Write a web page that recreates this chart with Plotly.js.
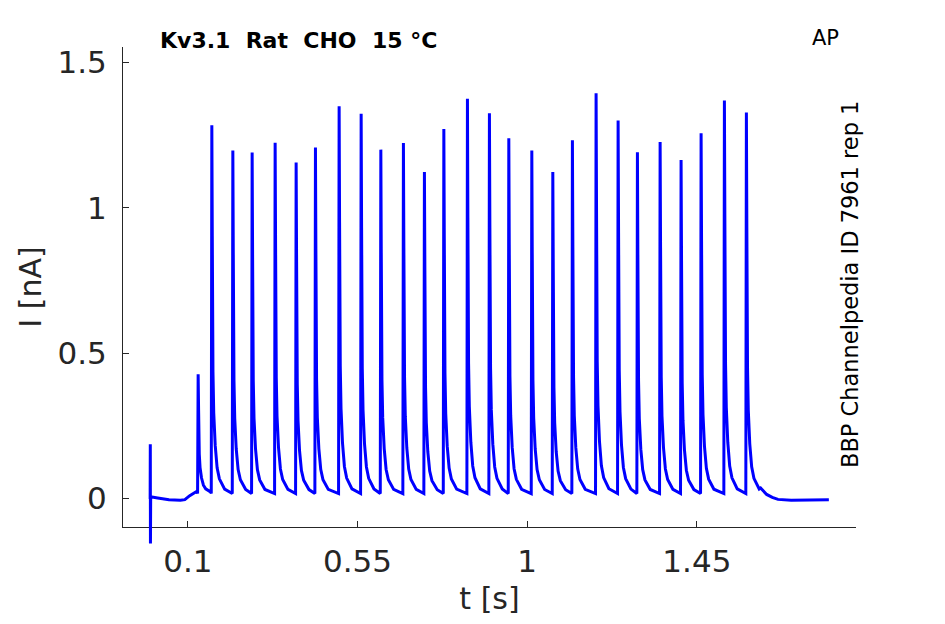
<!DOCTYPE html>
<html>
<head>
<meta charset="utf-8">
<script src="https://cdn.plot.ly/plotly-3.0.1.min.js"></script>
<style>
  html, body { margin: 0; padding: 0; background: #fff; }
  #chart { width: 945px; height: 624px; }
</style>
</head>
<body>
<div id="chart"></div>
<script>
// spike times (s) and peak currents (nA)
const spikeTimes = [0.1273, 0.1636, 0.2193, 0.2705, 0.3315, 0.3872, 0.4384, 0.5012, 0.5596,
  0.6118, 0.6717, 0.7274, 0.7789, 0.8415, 0.8998, 0.9512, 1.0122, 1.0679, 1.1199,
  1.1827, 1.2411, 1.2923, 1.3525, 1.4081, 1.4612, 1.5230, 1.5813];
const spikePeaks = [0.427, 1.284, 1.197, 1.190, 1.224, 1.156, 1.207, 1.349, 1.323,
  1.200, 1.223, 1.123, 1.271, 1.375, 1.325, 1.239, 1.197, 1.123, 1.232,
  1.394, 1.300, 1.191, 1.226, 1.164, 1.256, 1.369, 1.328];

// shape of one spike: offset from peak (s), fraction of height
const spikeShapeDt = [-0.0015, 0, 0.0012, 0.003, 0.005, 0.009, 0.014, 0.02, 0.034];
const spikeShapeFrac = [0, 1, 0.7, 0.33, 0.22, 0.13, 0.07, 0.04, 0.012];
const spikeBaseline = 0.017;

// before the stimulus (capacitive artefact at t = 0) and after the last spike
const preT = [0, 0.0004, 0.0008, 0.0014, 0.02, 0.05, 0.08, 0.092, 0.105, 0.118, 0.124];
const preI = [-0.002, 0.187, -0.155, 0.006, 0.002, -0.004, -0.006, -0.004, 0.01, 0.022, 0.025];
const postT = [1.619, 1.624, 1.635, 1.65, 1.665, 1.7, 1.75, 1.8];
const postI = [0.036, 0.028, 0.014, 0.004, -0.003, -0.006, -0.006, -0.004];

const xTicks = [0.1, 0.55, 1, 1.45];
const xTickText = ['0.1', '0.55', '1', '1.45'];
const yTicks = [0, 0.5, 1, 1.5];
const yTickText = ['0', '0.5', '1', '1.5'];

// assemble the trace
const t = [...preT];
const I = [...preI];
spikeTimes.forEach((ts, k) => {
  spikeShapeDt.forEach((dt, j) => {
    t.push(ts + dt);
    I.push(spikeBaseline + spikeShapeFrac[j] * (spikePeaks[k] - spikeBaseline));
  });
});
t.push(...postT);
I.push(...postI);

const W = 945, H = 624;
const M = { l: 123, r: 89, t: 47, b: 64 };
const plotW = W - M.l - M.r;
const plotH = H - M.t - M.b;
const px = x => (x - M.l) / plotW;
const py = y => (H - M.b - y) / plotH;

const xRange = [-0.072, 1.872];
const yRange = [-0.098, 1.553];
const axisBottom = py(527);   // x axis line sits here, the trace may run below it
const yRangeTrace = [yRange[1] - (yRange[1] - yRange[0]) / (1 - axisBottom), yRange[1]];

const axColor = '#262626';
const font = 'DejaVu Sans';

Plotly.newPlot('chart', [
  // empty trace so the visible axes get drawn
  { x: [], y: [], xaxis: 'x', yaxis: 'y', type: 'scatter', mode: 'lines', hoverinfo: 'skip' },
  {
    x: t,
    y: I,
    xaxis: 'x2',
    yaxis: 'y2',
    type: 'scatter',
    mode: 'lines',
    line: { color: '#0000ff', width: 3 },
    hoverinfo: 'skip'
  }
], {
  width: W,
  height: H,
  margin: M,
  paper_bgcolor: '#ffffff',
  plot_bgcolor: 'rgba(0,0,0,0)',
  showlegend: false,
  font: { family: font, color: axColor },
  xaxis: {
    domain: [0, 1],
    anchor: 'y',
    range: xRange,
    tickvals: xTicks,
    ticktext: xTickText,
    ticks: 'inside',
    ticklen: 6,
    tickcolor: axColor,
    showline: true,
    linecolor: axColor,
    linewidth: 1,
    showgrid: false,
    zeroline: false,
    tickfont: { size: 31, color: axColor },
    ticklabelstandoff: 7,
    title: { text: 't [s]', font: { size: 30, color: axColor }, standoff: 9 }
  },
  yaxis: {
    domain: [axisBottom, 1],
    anchor: 'x',
    range: yRange,
    tickvals: yTicks,
    ticktext: yTickText,
    ticks: 'inside',
    ticklen: 6,
    tickcolor: axColor,
    showline: true,
    linecolor: axColor,
    linewidth: 1,
    showgrid: false,
    zeroline: false,
    tickfont: { size: 31, color: axColor },
    ticklabelstandoff: 9,
    title: { text: 'I [nA]', font: { size: 30, color: axColor }, standoff: 6 }
  },
  xaxis2: {
    domain: [0, 1],
    anchor: 'y2',
    range: xRange,
    visible: false
  },
  yaxis2: {
    domain: [0, 1],
    anchor: 'x2',
    range: yRangeTrace,
    visible: false
  },
  annotations: [
    {
      text: 'Kv3.1\u00a0\u00a0Rat\u00a0\u00a0CHO\u00a0\u00a015\u00a0°C',
      xref: 'paper', yref: 'paper',
      x: px(158), y: py(40),
      xanchor: 'left', yanchor: 'middle',
      showarrow: false,
      font: { family: font, size: 22, color: '#000000', weight: 'bold' }
    },
    {
      text: 'AP',
      xref: 'paper', yref: 'paper',
      x: px(825), y: py(38.5),
      xanchor: 'center', yanchor: 'middle',
      showarrow: false,
      font: { family: font, size: 21, color: '#000000' }
    },
    {
      text: 'BBP Channelpedia ID 7961 rep 1',
      xref: 'paper', yref: 'paper',
      x: px(850), y: py(285),
      xanchor: 'center', yanchor: 'middle',
      textangle: -90,
      showarrow: false,
      font: { family: font, size: 22.5, color: '#000000' }
    }
  ]
}, { staticPlot: true });
</script>
</body>
</html>
